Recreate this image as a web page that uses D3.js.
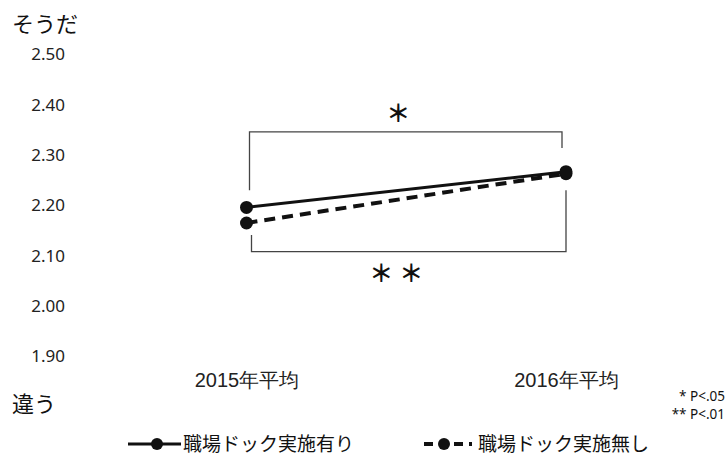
<!DOCTYPE html>
<html>
<head>
<meta charset="utf-8">
<script src="https://cdn.jsdelivr.net/npm/d3@7"></script>
<style>
  html, body { margin: 0; padding: 0; background: #fff; }
  svg { display: block; font-family: "Noto Sans CJK JP", "Noto Sans", sans-serif; }
</style>
</head>
<body>
<svg id="chart" width="727" height="457"></svg>
<script>
// Survey means (scale: そうだ ... 違う)
const categories = ["2015年平均", "2016年平均"];
const seriesNames = ["職場ドック実施有り", "職場ドック実施無し"];
const withDock = [2.196, 2.267];
const withoutDock = [2.165, 2.263];
const yTicks = [1.90, 2.00, 2.10, 2.20, 2.30, 2.40, 2.50];
const sigNotes = ["* P<.05", "** P<.01"];

const svg = d3.select("#chart");
const x = d3.scalePoint().domain(categories).range([246.5, 566]);
const y = d3.scaleLinear().domain([1.9, 2.5]).range([356.3, 54.5]);

// Y tick labels (no axis line)
const yAxis = d3.axisLeft(y).tickValues(yTicks).tickFormat(d3.format(".2f")).tickSize(0).tickPadding(0);
const gy = svg.append("g").attr("transform", "translate(65,0)").call(yAxis);
gy.select(".domain").remove();
gy.selectAll("text").attr("font-size", 17).attr("fill", "#222")
  .attr("font-family", "'Noto Sans', sans-serif");

// Category labels
const xAxis = d3.axisBottom(x).tickSize(0).tickPadding(0);
const gx = svg.append("g").attr("transform", "translate(0,373)").call(xAxis);
gx.select(".domain").remove();
gx.selectAll("text").attr("font-size", 20).attr("fill", "#222").attr("dy", "0.72em");

// Scale anchors
svg.append("text").attr("x", 12).attr("y", 24).attr("dy", "0.36em")
  .attr("font-size", 22).attr("fill", "#111").text("そうだ");
svg.append("text").attr("x", 12).attr("y", 404).attr("dy", "0.36em")
  .attr("font-size", 22).attr("fill", "#111").text("違う");

// Significance brackets
const [x0, x1] = categories.map(c => x(c));
const bracket = svg.append("g").attr("fill", "none").attr("stroke", "#444").attr("stroke-width", 1.3);
bracket.append("path").attr("d",
  `M${x0 + 3},${y(2.23)} V${y(2.346)} H${x1 - 4} V${y(2.314)}`);
bracket.append("path").attr("d",
  `M${x0 + 5},${y(2.141)} V${y(2.108)} H${x1} V${y(2.23)}`);

// Significance marks (full-width asterisks)
const starMarks = [
  { cx: (x0 + x1) / 2 - 8, v: 2.383 },
  { cx: (x0 + x1) / 2 - 25, v: 2.065 },
  { cx: (x0 + x1) / 2 + 5, v: 2.065 }
];
svg.selectAll(null).data(starMarks).enter().append("text")
  .attr("x", d => d.cx).attr("y", d => y(d.v)).attr("dy", "0.36em")
  .attr("text-anchor", "middle").attr("font-size", 24).attr("font-weight", 700)
  .attr("fill", "#111").text("＊");

// Series lines and markers
const line = d3.line().x((d, i) => x(categories[i])).y(d => y(d));
const series = [
  { name: seriesNames[0], values: withDock, dash: null, width: 3 },
  { name: seriesNames[1], values: withoutDock, dash: "11,7", width: 4 }
];
series.slice().reverse().forEach(s => {
  svg.append("path").datum(s.values).attr("d", line)
    .attr("fill", "none").attr("stroke", "#111").attr("stroke-width", s.width)
    .attr("stroke-dasharray", s.dash);
  svg.selectAll(null).data(s.values).enter().append("circle")
    .attr("cx", (d, i) => x(categories[i])).attr("cy", d => y(d))
    .attr("r", 6.5).attr("fill", "#111");
});

// Significance notes
sigNotes.forEach((t, i) => {
  svg.append("text").attr("x", 725).attr("y", 396 + i * 18).attr("dy", "0.36em")
    .attr("text-anchor", "end").attr("font-size", 13.5).attr("fill", "#111")
    .attr("font-family", "'Noto Sans', sans-serif").text(t);
});

// Legend
const legendY = 444;
const legendItems = [
  { s: series[0], x0: 128, x1: 181, mx: 157, tx: 183 },
  { s: series[1], x0: 424, x1: 472, mx: 444, tx: 478 }
];
legendItems.forEach(it => {
  svg.append("line").attr("x1", it.x0).attr("x2", it.x1).attr("y1", legendY).attr("y2", legendY)
    .attr("stroke", "#111").attr("stroke-width", it.s.width)
    .attr("stroke-dasharray", it.s.dash ? "9,6" : null);
  svg.append("circle").attr("cx", it.mx).attr("cy", legendY).attr("r", 6).attr("fill", "#111");
  svg.append("text").attr("x", it.tx).attr("y", legendY).attr("dy", "0.36em")
    .attr("font-size", 19).attr("fill", "#111").text(it.s.name);
});
</script>
</body>
</html>
